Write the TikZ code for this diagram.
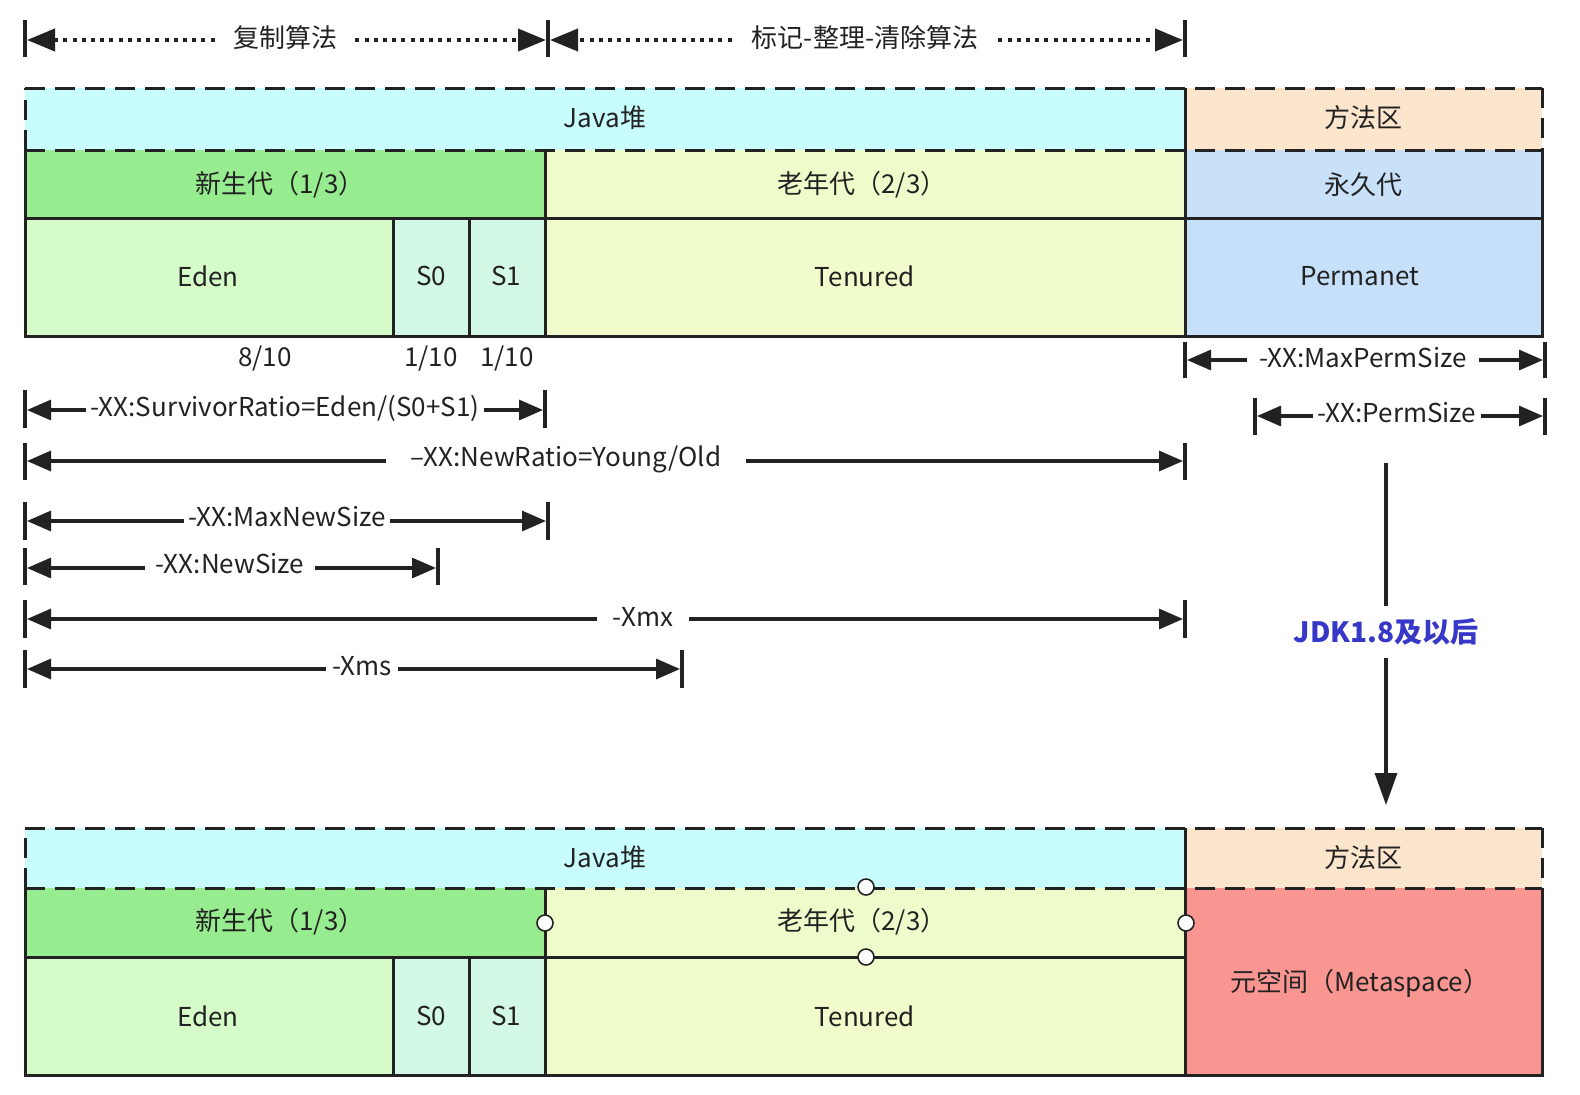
\documentclass[tikz,border=0pt]{standalone}
\usepackage{fontspec}
\setmainfont{Noto Sans CJK SC}
\usetikzlibrary{arrows.meta,calc}
\definecolor{heapc}{HTML}{C9FCFD}
\definecolor{methc}{HTML}{FBE5CC}
\definecolor{youngc}{HTML}{96EC8E}
\definecolor{oldc}{HTML}{EEFCCB}
\definecolor{permc}{HTML}{C8E0F8}
\definecolor{edenc}{HTML}{D5FCC8}
\definecolor{survc}{HTML}{D4F8E6}
\definecolor{tenc}{HTML}{F0FCCB}
\definecolor{permnc}{HTML}{C6E0FA}
\definecolor{metac}{HTML}{F99692}
\definecolor{jdkc}{HTML}{3737C8}
\definecolor{inkc}{HTML}{222222}
\begin{document}
\begin{tikzpicture}[x=0.5pt,y=-0.5pt,
  lbl/.style={font=\fontsize{13}{15}\selectfont, inner sep=0pt, text=inkc},
  dimlbl/.style={font=\fontsize{13}{15}\selectfont, inner xsep=3pt, inner ysep=2pt, text=inkc},
  dimarr/.style={draw=inkc, line width=1.6pt, -{Triangle[length=12pt,width=10pt]}},
  tickln/.style={draw=inkc, line width=1.6pt},
  dotarr/.style={draw=inkc, line width=2pt, dash pattern=on 2pt off 2.6pt, -{Triangle[length=14pt,width=11pt]}},
  solidb/.style={draw=inkc, line width=1.5pt},
  dashb/.style={draw=inkc, line width=1.5pt, dash pattern=on 10pt off 5pt},
  joint/.style={circle, draw=inkc, fill=white, line width=0.8pt, minimum width=7pt, minimum height=8pt, inner sep=0pt}
]
\useasboundingbox (0,0) rectangle (1580,1094);
\fill[white] (0,0) rectangle (1580,1094);

% ---------- top algorithm spans ----------
\draw[tickln] (25,20) -- (25,57);
\draw[tickln] (548,20) -- (548,57);
\draw[tickln] (1185,20) -- (1185,57);
\coordinate (cpL) at (27,40);
\coordinate (cpR) at (546,40);
\coordinate (mkL) at (550,40);
\coordinate (mkR) at (1183,40);
\node[lbl, inner xsep=9pt] (cp) at (285,38) {复制算法};
\node[lbl, inner xsep=10pt] (mk) at (865,38) {标记-整理-清除算法};
\draw[dotarr] (cp.west |- cpL) -- (cpL);
\draw[dotarr] (cp.east |- cpR) -- (cpR);
\draw[dotarr] (mk.west |- mkL) -- (mkL);
\draw[dotarr] (mk.east |- mkR) -- (mkR);

% ---------- upper (JDK 1.7) layout ----------
\fill[heapc] (25,88) rectangle (1185,150);
\fill[methc] (1185,88) rectangle (1542,150);
\fill[youngc] (25,150) rectangle (545,218);
\fill[oldc] (545,150) rectangle (1185,218);
\fill[permc] (1185,150) rectangle (1542,218);
\fill[edenc] (25,218) rectangle (393,336);
\fill[survc] (393,218) rectangle (545,336);
\fill[tenc] (545,218) rectangle (1185,336);
\fill[permnc] (1185,218) rectangle (1542,336);

\node[lbl] (heapA) at (605,118) {Java堆};
\node[lbl] (methA) at (1363,118) {方法区};
\node[lbl] (youngA) at (280,185) {新生代（1/3）};
\node[lbl] (oldA) at (862,185) {老年代（2/3）};
\node[lbl] (permA) at (1363,185) {永久代};
\node[lbl] (edenA) at (208,276) {Eden};
\node[lbl] (s0A) at (431,276) {S0};
\node[lbl] (s1A) at (506,276) {S1};
\node[lbl] (tenA) at (865,276) {Tenured};
\node[lbl] (pmA) at (1360,276) {Permanet};

\draw[solidb] (1185,88) -- (1185,336);
\draw[solidb] (25,150) -- (25,336) -- (1542,336) -- (1542,150);
\draw[solidb] (25,218) -- (1542,218);
\draw[solidb] (545,150) -- (545,336);
\draw[solidb] (393,218) -- (393,336);
\draw[solidb] (469,218) -- (469,336);
\draw[dashb] (25,88) -- (1542,88);
\draw[dashb] (25,150) -- (25,88);
\draw[dashb] (1542,88) -- (1542,150);
\draw[dashb] (25,150) -- (1542,150);

\node[lbl] (r8) at (265,358) {8/10};
\node[lbl] (r1a) at (431,358) {1/10};
\node[lbl] (r1b) at (507,358) {1/10};

% ---------- dimension lines ----------
% MaxPermSize
\draw[tickln] (1185,342) -- (1185,378);
\draw[tickln] (1545,342) -- (1545,378);
\coordinate (mpL) at (1187,360); \coordinate (mpR) at (1543,360);
\node[dimlbl, inner xsep=6pt] (mp) at (1363,358) {-XX:MaxPermSize};
\draw[dimarr] (mp.west |- mpL) -- (mpL); \draw[dimarr] (mp.east |- mpR) -- (mpR);
% PermSize
\draw[tickln] (1255,398) -- (1255,435);
\draw[tickln] (1545,398) -- (1545,435);
\coordinate (psL) at (1257,416); \coordinate (psR) at (1543,416);
\node[dimlbl, inner xsep=2pt] (ps) at (1397,413) {-XX:PermSize};
\draw[dimarr] (ps.west |- psL) -- (psL); \draw[dimarr] (ps.east |- psR) -- (psR);
% SurvivorRatio
\draw[tickln] (25,390) -- (25,428);
\draw[tickln] (545,390) -- (545,428);
\coordinate (srL) at (27,410); \coordinate (srR) at (543,410);
\node[dimlbl, inner xsep=2pt] (sr) at (285,408) {-XX:SurvivorRatio=Eden/(S0+S1)};
\draw[dimarr] (sr.west |- srL) -- (srL); \draw[dimarr] (sr.east |- srR) -- (srR);
% NewRatio
\draw[tickln] (25,443) -- (25,480);
\draw[tickln] (1185,443) -- (1185,480);
\coordinate (nrL) at (27,461); \coordinate (nrR) at (1183,461);
\node[dimlbl, inner xsep=12pt] (nr) at (566,459) {–XX:NewRatio=Young/Old};
\draw[dimarr] (nr.west |- nrL) -- (nrL); \draw[dimarr] (nr.east |- nrR) -- (nrR);
% MaxNewSize
\draw[tickln] (25,502) -- (25,540);
\draw[tickln] (548,502) -- (548,540);
\coordinate (mnL) at (27,521); \coordinate (mnR) at (546,521);
\node[dimlbl, inner xsep=2pt] (mn) at (287,517) {-XX:MaxNewSize};
\draw[dimarr] (mn.west |- mnL) -- (mnL); \draw[dimarr] (mn.east |- mnR) -- (mnR);
% NewSize
\draw[tickln] (25,548) -- (25,585);
\draw[tickln] (438,548) -- (438,585);
\coordinate (nsL) at (27,568); \coordinate (nsR) at (436,568);
\node[dimlbl, inner xsep=5pt] (ns) at (230,564) {-XX:NewSize};
\draw[dimarr] (ns.west |- nsL) -- (nsL); \draw[dimarr] (ns.east |- nsR) -- (nsR);
% Xmx
\draw[tickln] (25,600) -- (25,638);
\draw[tickln] (1185,600) -- (1185,638);
\coordinate (xxL) at (27,619); \coordinate (xxR) at (1183,619);
\node[dimlbl, inner xsep=8pt] (xx) at (643,617) {-Xmx};
\draw[dimarr] (xx.west |- xxL) -- (xxL); \draw[dimarr] (xx.east |- xxR) -- (xxR);
% Xms
\draw[tickln] (25,650) -- (25,688);
\draw[tickln] (682,650) -- (682,688);
\coordinate (xsL) at (27,669); \coordinate (xsR) at (680,669);
\node[dimlbl, inner xsep=3pt] (xs) at (362,666) {-Xms};
\draw[dimarr] (xs.west |- xsL) -- (xsL); \draw[dimarr] (xs.east |- xsR) -- (xsR);

% ---------- JDK 1.8 arrow ----------
\coordinate (jt) at (1386,463);
\coordinate (jb) at (1386,805);
\node[font=\fontsize{14}{16}\selectfont\bfseries, text=jdkc, inner xsep=2pt, inner ysep=6pt] (jdk) at (1386,632) {JDK1.8及以后};
\draw[draw=inkc, line width=1.6pt] (jdk.north -| jt) -- (jt);
\draw[draw=inkc, line width=1.6pt, -{Triangle[length=16pt,width=11pt]}] (jdk.south -| jb) -- (jb);

% ---------- lower (JDK 1.8) layout ----------
\fill[heapc] (25,828) rectangle (1185,888);
\fill[methc] (1185,828) rectangle (1542,888);
\fill[youngc] (25,888) rectangle (545,957);
\fill[oldc] (545,888) rectangle (1185,957);
\fill[edenc] (25,957) rectangle (393,1075);
\fill[survc] (393,957) rectangle (545,1075);
\fill[tenc] (545,957) rectangle (1185,1075);
\fill[metac] (1185,888) rectangle (1542,1075);

\node[lbl] (heapB) at (605,858) {Java堆};
\node[lbl] (methB) at (1363,858) {方法区};
\node[lbl] (youngB) at (280,922) {新生代（1/3）};
\node[lbl] (oldB) at (862,922) {老年代（2/3）};
\node[lbl] (edenB) at (208,1016) {Eden};
\node[lbl] (s0B) at (431,1016) {S0};
\node[lbl] (s1B) at (506,1016) {S1};
\node[lbl] (tenB) at (865,1016) {Tenured};
\node[lbl] (metaB) at (1360,983) {元空间（Metaspace）};

\draw[solidb] (1185,828) -- (1185,1075);
\draw[solidb] (25,888) -- (25,1075) -- (1542,1075) -- (1542,888);
\draw[solidb] (25,957) -- (1185,957);
\draw[solidb] (545,888) -- (545,1075);
\draw[solidb] (393,957) -- (393,1075);
\draw[solidb] (469,957) -- (469,1075);
\draw[dashb] (25,828) -- (1542,828);
\draw[dashb] (25,888) -- (25,828);
\draw[dashb] (1542,828) -- (1542,888);
\draw[dashb] (25,888) -- (1542,888);

\node[joint] (jA) at (866,887) {};
\node[joint] (jB) at (545,923) {};
\node[joint] (jC) at (1186,923) {};
\node[joint] (jD) at (866,957) {};
\end{tikzpicture}
\end{document}
